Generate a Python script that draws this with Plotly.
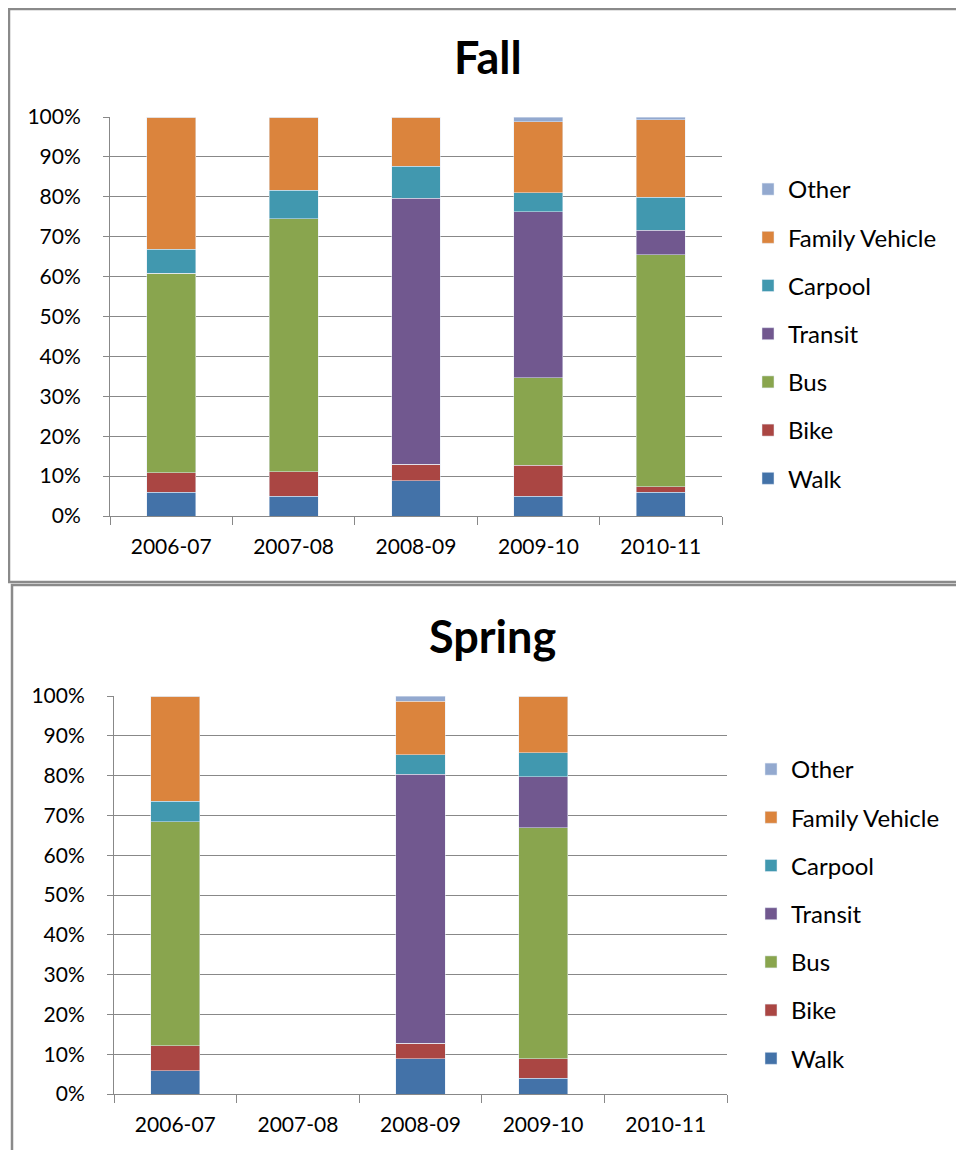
import plotly.graph_objects as go

years = ["2006-07", "2007-08", "2008-09", "2009-10", "2010-11"]
modes = ["Walk", "Bike", "Bus", "Transit", "Carpool", "Family Vehicle", "Other"]

fall_walk = [6.0, 4.9, 8.8, 4.9, 5.9]
fall_bike = [4.8, 6.2, 4.2, 7.8, 1.4]
fall_bus = [50.0, 63.4, 0, 21.9, 58.2]
fall_transit = [0, 0, 66.7, 41.6, 6.1]
fall_carpool = [6.1, 7.1, 8.0, 4.8, 8.3]
fall_family = [33.1, 18.4, 12.3, 17.8, 19.4]
fall_other = [0, 0, 0, 1.2, 0.7]

spring_walk = [5.9, None, 8.9, 4.0, None]
spring_bike = [6.2, None, 3.9, 4.9, None]
spring_bus = [56.3, None, 0, 58.0, None]
spring_transit = [0, None, 67.5, 12.8, None]
spring_carpool = [5.2, None, 4.9, 6.1, None]
spring_family = [26.4, None, 13.5, 14.2, None]
spring_other = [0, None, 1.3, 0, None]

colors = ["#4372A8", "#AA4643", "#89A54E", "#71588F", "#4198AF", "#DB843D", "#93A9CF"]

fall = [fall_walk, fall_bike, fall_bus, fall_transit, fall_carpool, fall_family, fall_other]
spring = [spring_walk, spring_bike, spring_bus, spring_transit, spring_carpool, spring_family, spring_other]

# page body has an 8px margin; keep the figure inside the 964x1158 window
OFF = 8
W, H = 964 - 2 * OFF, 1158 - 2 * OFF
FONT = "Lato"


def px(x):
    return (x - OFF) / W


def py(y):
    return 1 - (y - OFF) / H


fig = go.Figure()
n = len(modes)
for i, m in enumerate(modes):
    fig.add_trace(go.Bar(x=years, y=fall[i], name=m, marker_color=colors[i],
                         xaxis="x", yaxis="y", legend="legend",
                         legendgroup="fall_" + m, legendrank=n - i))
for i, m in enumerate(modes):
    fig.add_trace(go.Bar(x=years, y=spring[i], name=m, marker_color=colors[i],
                         xaxis="x2", yaxis="y2", legend="legend2",
                         legendgroup="spring_" + m, legendrank=n - i))

grid = "#888888"
axis_common = dict(showline=True, linecolor=grid, linewidth=1, ticks="outside",
                   tickcolor=grid, automargin=False,
                   tickfont=dict(family=FONT, size=21, color="#000"))

xa = dict(axis_common, type="category", categoryorder="array", categoryarray=years,
          tickson="boundaries", ticklen=8, showgrid=False, ticklabelstandoff=12)
ya = dict(axis_common, range=[0, 100], dtick=10, ticksuffix="%", ticklen=6,
          showgrid=True, gridcolor=grid, gridwidth=1, zeroline=False, ticklabelstandoff=18)

legend_common = dict(xanchor="left", yanchor="top", traceorder="grouped", tracegroupgap=14,
                     font=dict(family=FONT, size=24, color="#000"),
                     bgcolor="rgba(0,0,0,0)", itemclick=False, itemdoubleclick=False)

fig.update_layout(
    width=W, height=H,
    margin=dict(l=0, r=0, t=0, b=0, autoexpand=False),
    paper_bgcolor="white", plot_bgcolor="white",
    barmode="stack", bargap=0.6,
    showlegend=True,
    xaxis=dict(xa, domain=[px(110), px(722)], anchor="y"),
    yaxis=dict(ya, domain=[py(516), py(117)], anchor="x"),
    xaxis2=dict(xa, domain=[px(114), px(727)], anchor="y2"),
    yaxis2=dict(ya, domain=[py(1094), py(696)], anchor="x2"),
    legend=dict(legend_common, x=px(748), y=py(167)),
    legend2=dict(legend_common, x=px(751), y=py(747)),
    annotations=[
        dict(text="<b>Fall</b>", x=px(488), y=py(57), xref="paper", yref="paper",
             xanchor="center", yanchor="middle", showarrow=False,
             font=dict(family=FONT, size=45, color="#000")),
        dict(text="<b>Spring</b>", x=px(492), y=py(636), xref="paper", yref="paper",
             xanchor="center", yanchor="middle", showarrow=False,
             font=dict(family=FONT, size=45, color="#000")),
    ],
    shapes=[
        dict(type="rect", xref="paper", yref="paper", x0=px(9), x1=1.05, y0=py(582), y1=py(9),
             line=dict(color="#8a8a8a", width=2.5), fillcolor="rgba(0,0,0,0)", layer="below"),
        dict(type="rect", xref="paper", yref="paper", x0=px(12), x1=1.05, y0=-0.05, y1=py(585),
             line=dict(color="#8a8a8a", width=2.5), fillcolor="rgba(0,0,0,0)", layer="below"),
    ],
)

fig.write_html("out.html")
